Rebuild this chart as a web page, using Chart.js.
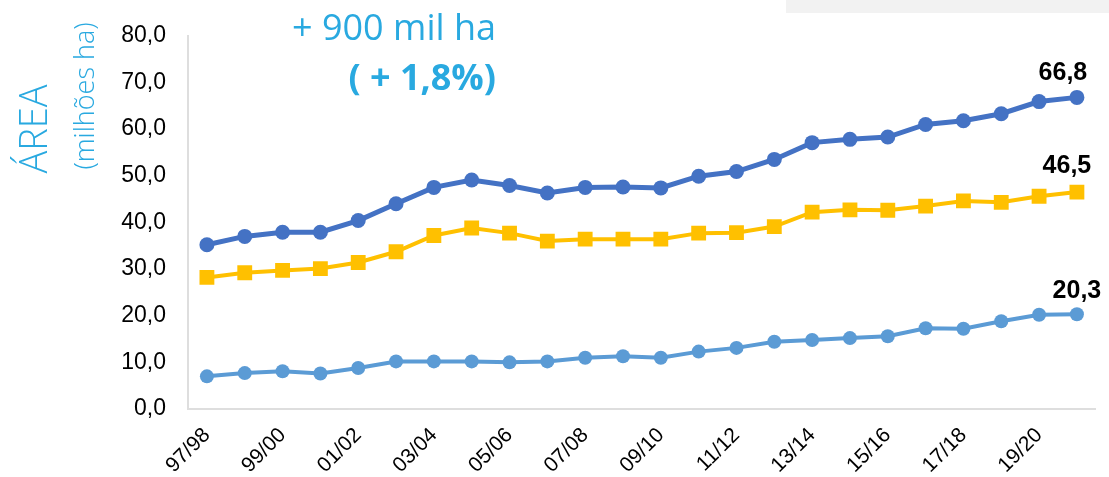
<!DOCTYPE html>
<html>
<head>
<meta charset="utf-8">
<script src="https://cdn.jsdelivr.net/npm/chart.js@4.4.1/dist/chart.umd.min.js"></script>
<style>
  html, body { margin: 0; padding: 0; background: #fff; }
  #wrap { width: 1109px; height: 477px; }
</style>
</head>
<body>
<div id="wrap"><canvas id="areaChart" width="1109" height="477"></canvas></div>
<script>
// safras
const safras = ['97/98', '98/99', '99/00', '00/01', '01/02', '02/03', '03/04', '04/05',
  '05/06', '06/07', '07/08', '08/09', '09/10', '10/11', '11/12', '12/13', '13/14',
  '14/15', '15/16', '16/17', '17/18', '18/19', '19/20', '20/21'];

// área total, 1ª safra e 2ª safra (milhões ha)
const areaTotal = [35.2, 37.0, 37.9, 37.9, 40.4, 44.0, 47.5, 49.1, 47.9, 46.3, 47.5, 47.6,
  47.4, 49.9, 50.9, 53.5, 57.1, 57.8, 58.3, 61.0, 61.8, 63.3, 65.9, 66.8];
const areaPrimeira = [28.2, 29.2, 29.7, 30.1, 31.4, 33.7, 37.2, 38.8, 37.7, 36.0, 36.4, 36.4,
  36.4, 37.7, 37.8, 39.1, 42.2, 42.7, 42.6, 43.5, 44.6, 44.3, 45.6, 46.5];
const areaSegunda = [7.0, 7.7, 8.1, 7.6, 8.8, 10.2, 10.2, 10.2, 10.0, 10.2, 11.0, 11.3,
  11.0, 12.3, 13.1, 14.4, 14.8, 15.2, 15.6, 17.3, 17.2, 18.8, 20.2, 20.3];

// ticks do eixo y
const yTicks = [0, 10, 20, 30, 40, 50, 60, 70, 80];

const fmt = v => v.toFixed(1).replace('.', ',');
const azulTitulo = '#29a9e0';

// rótulo do último ponto de cada série
const labelOffsets = [[-14, -24], [-10, -26], [0, -23]];
const lastLabels = {
  id: 'lastLabels',
  afterDatasetsDraw(chart) {
    const ctx = chart.ctx;
    ctx.save();
    ctx.font = 'bold 25px "Liberation Sans", Arial, sans-serif';
    ctx.fillStyle = '#000';
    ctx.textAlign = 'center';
    ctx.textBaseline = 'middle';
    chart.data.datasets.forEach((ds, i) => {
      const meta = chart.getDatasetMeta(i);
      const pt = meta.data[meta.data.length - 1];
      const off = labelOffsets[i];
      ctx.fillText(fmt(ds.data[ds.data.length - 1]), pt.x + off[0], pt.y + off[1]);
    });
    ctx.restore();
  }
};

// textos e faixa cinza
const extras = {
  id: 'extras',
  beforeDraw(chart) {
    const ctx = chart.ctx;
    ctx.save();
    ctx.fillStyle = '#f2f2f2';
    ctx.fillRect(786, 0, 323, 13);
    ctx.restore();
  },
  afterDraw(chart) {
    const ctx = chart.ctx;
    ctx.save();
    ctx.fillStyle = azulTitulo;
    ctx.textBaseline = 'middle';
    ctx.textAlign = 'center';
    ctx.font = '36px "Open Sans", sans-serif';
    ctx.fillText('+ 900 mil ha', 394, 30);
    ctx.textAlign = 'right';
    ctx.font = 'bold 36px "Open Sans", sans-serif';
    ctx.fillText('( + 1,8%)', 496, 80);

    ctx.translate(36, 129);
    ctx.rotate(-Math.PI / 2);
    ctx.textAlign = 'center';
    ctx.font = '300 38px "Open Sans", sans-serif';
    ctx.fillText('ÁREA', 0, 0);
    ctx.rotate(Math.PI / 2);
    ctx.translate(50, -33);
    ctx.rotate(-Math.PI / 2);
    ctx.font = '300 27px "Open Sans", sans-serif';
    ctx.fillText('(milhões ha)', 0, 0);
    ctx.restore();
  }
};

const ctx = document.getElementById('areaChart').getContext('2d');
new Chart(ctx, {
  type: 'line',
  data: {
    labels: safras,
    datasets: [{
      label: 'Total',
      data: areaTotal,
      borderColor: '#4472c4',
      backgroundColor: '#4472c4',
      borderWidth: 5,
      pointRadius: 7.5,
      pointHoverRadius: 7.5,
      pointBorderWidth: 0,
    }, {
      label: '1ª safra',
      data: areaPrimeira,
      borderColor: '#ffc000',
      backgroundColor: '#ffc000',
      borderWidth: 4,
      pointStyle: 'rect',
      pointRadius: 10.5,
      pointHoverRadius: 10.5,
      pointBorderWidth: 0,
    }, {
      label: '2ª safra',
      data: areaSegunda,
      borderColor: '#5b9bd5',
      backgroundColor: '#5b9bd5',
      borderWidth: 4,
      pointRadius: 7,
      pointHoverRadius: 7,
      pointBorderWidth: 0,
    }]
  },
  options: {
    responsive: false,
    animation: false,
    layout: { padding: { left: 0, right: 13, top: 35, bottom: 0 } },
    plugins: {
      legend: { display: false },
      tooltip: { enabled: false },
    },
    scales: {
      x: {
        offset: true,
        grid: { display: false, drawTicks: false },
        border: { color: '#dedede', width: 2 },
        ticks: {
          autoSkip: false,
          minRotation: 45,
          maxRotation: 45,
          padding: 14,
          color: '#000',
          font: { family: '"Liberation Sans", Arial, sans-serif', size: 21 },
          callback: (v, i) => (i % 2 === 0 ? safras[i] : ''),
        },
        afterFit: s => { s.height = 68; },
      },
      y: {
        min: 0,
        max: 80,
        grid: { display: false, drawTicks: false },
        border: { color: '#dedede', width: 2 },
        afterBuildTicks: s => { s.ticks = yTicks.map(v => ({ value: v })); },
        ticks: {
          padding: 22,
          color: '#000',
          font: { family: '"Liberation Sans", Arial, sans-serif', size: 23 },
          callback: v => fmt(v),
        },
        afterFit: s => { s.width = 188; },
      }
    }
  },
  plugins: [extras, lastLabels]
});
</script>
</body>
</html>
